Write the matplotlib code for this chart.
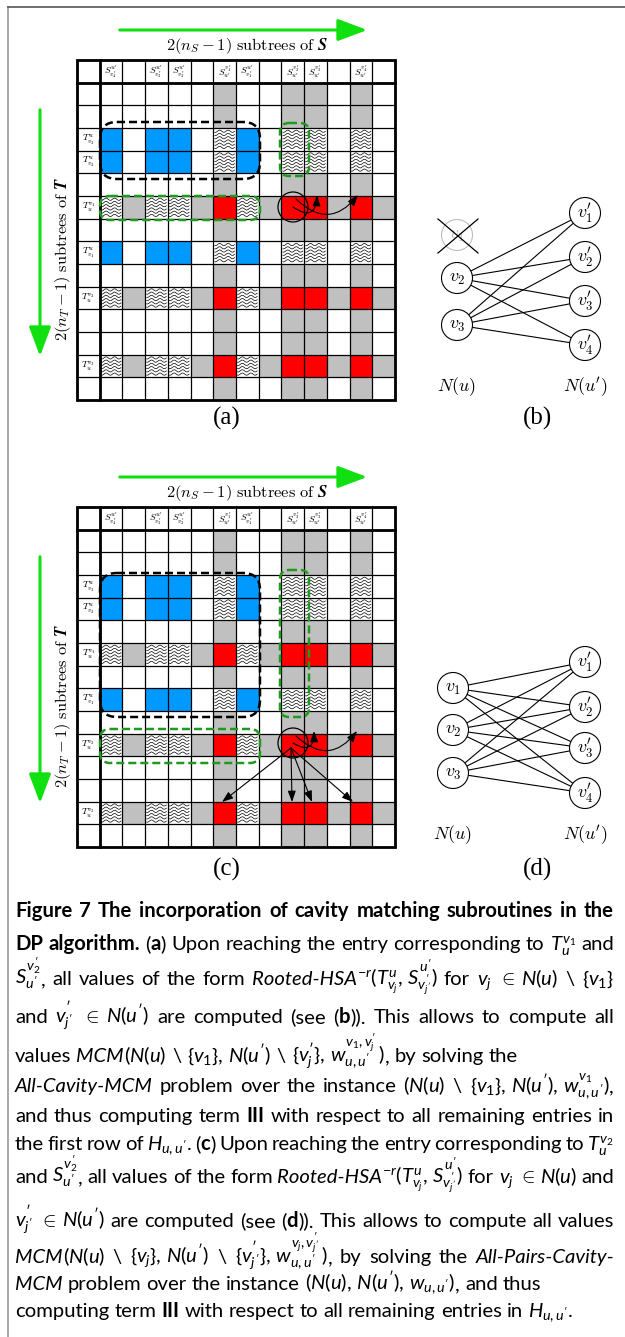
import numpy as np
import matplotlib
matplotlib.use("Agg")
import matplotlib.pyplot as plt
from matplotlib.patches import Rectangle, Circle, FancyBboxPatch, FancyArrowPatch

plt.rcParams['mathtext.fontset'] = 'custom'
plt.rcParams['mathtext.rm'] = 'Lato'
plt.rcParams['mathtext.it'] = 'Lato:italic'
plt.rcParams['mathtext.bf'] = 'Lato:bold'

# ---- table content (same for panels a and c) ----
col_labels = [r"S^{u^\prime}_{v^\prime_4}", "", r"S^{u^\prime}_{v^\prime_3}", r"S^{u^\prime}_{v^\prime_2}", "",
              r"S^{v^\prime_1}_{u^\prime}", r"S^{u^\prime}_{v^\prime_1}", "", r"S^{v^\prime_2}_{u^\prime}",
              r"S^{v^\prime_3}_{u^\prime}", "", r"S^{v^\prime_4}_{u^\prime}", ""]
row_labels = ["", "", r"T^u_{v_3}", r"T^u_{v_2}", "", r"T^{v_1}_u", "", r"T^u_{v_1}", "",
              r"T^{v_2}_u", "", "", r"T^{v_3}_u", ""]
gray_cols = [6, 9, 10, 12]
gray_rows = [6, 10, 13]
blue_rows = [3, 4, 8]
blue_cols = [1, 3, 4, 7]

# ---- bipartite graphs ----
left_nodes = [r"v_1", r"v_2", r"v_3"]
right_nodes = [r"v^\prime_1", r"v^\prime_2", r"v^\prime_3", r"v^\prime_4"]
edges_b = [(1, 0), (1, 1), (1, 2), (1, 3), (2, 0), (2, 1), (2, 2), (2, 3)]
edges_d = [(i, j) for i in range(3) for j in range(4)]

caption_lines = [
    r"**Figure 7 The incorporation of cavity matching subroutines in the**",
    r"**DP algorithm.** (**a**) Upon reaching the entry corresponding to $T_u^{v_1}$ and",
    r"$S_{u^\prime}^{v^\prime_2}$, all values of the form *Rooted-HSA*$^{-r}(T^u_{v_j},\,S^{u^\prime}_{v^\prime_{j^\prime}})$ for $v_j$ $\in$ $N(u)$ $\backslash$ $\{v_1\}$",
    r"and $v^\prime_{j^\prime}$ $\in$ $N(u^\prime)$ are computed (see (**b**)). This allows to compute all",
    r"values *MCM*$(N(u)$ $\backslash$ $\{v_1\},\,N(u^\prime)$ $\backslash$ $\{v^\prime_j\},\,w^{v_1,v^\prime_j}_{u,u^\prime}\,)$, by solving the",
    r"*All-Cavity-MCM* problem over the instance $(N(u)$ $\backslash$ $\{v_1\},\,N(u^\prime),\,w^{v_1}_{u,u^\prime})$,",
    r"and thus computing term **III** with respect to all remaining entries in",
    r"the first row of $H_{u,u^\prime}$. (**c**) Upon reaching the entry corresponding to $T_u^{v_2}$",
    r"and $S_{u^\prime}^{v^\prime_2}$, all values of the form *Rooted-HSA*$^{-r}(T^u_{v_j},\,S^{u^\prime}_{v^\prime_{j^\prime}})$ for $v_j$ $\in$ $N(u)$ and",
    r"$v^\prime_{j^\prime}$ $\in$ $N(u^\prime)$ are computed (see (**d**)). This allows to compute all values",
    r"*MCM*$(N(u)$ $\backslash$ $\{v_j\},\,N(u^\prime)$ $\backslash$ $\{v^\prime_{j^\prime}\},\,w^{v_j,v^\prime_{j^\prime}}_{u,u^\prime}\,)$, by solving the *All-Pairs-Cavity-*",
    r"*MCM* problem over the instance $(N(u),\,N(u^\prime),\,w_{u,u^\prime})$, and thus",
    r"computing term **III** with respect to all remaining entries in $H_{u,u^\prime}$.",
]
caption_base = [917, 950, 985, 1023, 1062, 1092, 1122, 1150, 1183, 1227, 1263, 1290, 1317]
caption_justify = [True, True, True, True, False, True, True, True, True, True, True, False, False]

GREEN = '#10e010'
DGREEN = '#1f9a1f'
BLUE = '#0099ff'
GRAY = '#c0c0c0'

fig = plt.figure(figsize=(6.25, 13.37), dpi=100)
ax = fig.add_axes([0, 0, 1, 1])
ax.set_xlim(0, 625)
ax.set_ylim(1337, 0)
ax.axis('off')

# page frame
ax.plot([8, 8], [7, 1337], color='#999999', lw=1.2)
ax.plot([8, 625], [7, 7], color='#555555', lw=1.2)

X0 = 77
CW = (395 - 77) / 14
CH = 340 / 15
n_cols = len(col_labels)
n_rows = len(row_labels)


def cell_kind(r, c):
    gr, gc = r in gray_rows, c in gray_cols
    br, bc = r in blue_rows, c in blue_cols
    if gr and gc:
        return 'red'
    if (gr and bc) or (br and gc):
        return 'wave'
    if br and bc:
        return 'blue'
    if gr or gc:
        return 'gray'
    return 'white'


fills = {'red': '#ff0000', 'wave': 'white', 'blue': BLUE, 'gray': GRAY, 'white': 'white'}


def draw_grid(y0):
    for r in range(1, n_rows + 1):
        for c in range(1, n_cols + 1):
            kind = cell_kind(r, c)
            x, y = X0 + c * CW, y0 + r * CH
            ax.add_patch(Rectangle((x, y), CW, CH, fc=fills[kind], ec='none', zorder=1))
            if kind == 'wave':
                xx = np.linspace(x + 1.5, x + CW - 1.5, 40)
                for k in range(1, 7):
                    ax.plot(xx, y + k * CH / 7 + 1.1 * np.sin(2 * np.pi * (xx - x) / 8.5),
                            color='k', lw=0.5, zorder=2)
    W, H = (n_cols + 1) * CW, (n_rows + 1) * CH
    for k in range(n_cols + 2):
        ax.plot([X0 + k * CW] * 2, [y0, y0 + H], color='k', lw=0.9, zorder=3)
    for k in range(n_rows + 2):
        ax.plot([X0, X0 + W], [y0 + k * CH] * 2, color='k', lw=0.9, zorder=3)
    ax.add_patch(Rectangle((X0, y0), W, H, fill=False, ec='k', lw=2.0, zorder=4))
    ax.plot([X0, X0 + W], [y0 + CH] * 2, color='k', lw=2.0, zorder=4)
    ax.plot([X0 + CW] * 2, [y0, y0 + H], color='k', lw=2.0, zorder=4)
    for c, lab in enumerate(col_labels, start=1):
        if lab:
            ax.text(X0 + (c + 0.5) * CW, y0 + 0.5 * CH, r'$\boldsymbol{' + lab + '}$', fontsize=6.8,
                    ha='center', va='center', math_fontfamily='cm', zorder=5)
    for r, lab in enumerate(row_labels, start=1):
        if lab:
            ax.text(X0 + 0.5 * CW, y0 + (r + 0.5) * CH, r'$\boldsymbol{' + lab + '}$', fontsize=6.8,
                    ha='center', va='center', math_fontfamily='cm', zorder=5)
    # axis arrows and titles
    ax.add_patch(FancyArrowPatch((117, y0 - 30), (370, y0 - 30), arrowstyle='-|>,head_length=1.2,head_width=0.45',
                                 mutation_scale=15, lw=2.2, color=GREEN, zorder=5))
    ax.text(247, y0 - 14,
            r"$\mathbf{2}(\boldsymbol{n_S} - \mathbf{1})\ \mathrm{subtrees\ of}\ \boldsymbol{S}$",
            fontsize=11.8, ha='center', va='center', math_fontfamily='cm')
    ax.add_patch(FancyArrowPatch((40, y0 + 47), (40, y0 + 299), arrowstyle='-|>,head_length=1.2,head_width=0.45',
                                 mutation_scale=15, lw=2.2, color=GREEN, zorder=5))
    ax.text(63, y0 + 199,
            r"$\mathbf{2}(\boldsymbol{n_T} - \mathbf{1})\ \mathrm{subtrees\ of}\ \boldsymbol{T}$",
            fontsize=11.8, ha='center', va='center', rotation=90, math_fontfamily='cm')


def dashed_box(x0, y0, x1, y1, color, rs):
    ax.add_patch(FancyBboxPatch((x0, y0), x1 - x0, y1 - y0, boxstyle=f"round,pad=0,rounding_size={rs}",
                                fill=False, ec=color, lw=1.8, ls=(0, (3.2, 1.6)), zorder=6))


def arrow(p, q, rad=0.0):
    ax.add_patch(FancyArrowPatch(p, q, arrowstyle='-|>,head_length=0.55,head_width=0.2', mutation_scale=12,
                                 connectionstyle=f'arc3,rad={rad}', lw=0.8, color='k', zorder=7,
                                 shrinkA=0, shrinkB=0))


# ---- panel (a) ----
draw_grid(60)
dashed_box(100, 122, 260, 179, 'k', 17)
dashed_box(280, 123, 309, 176, DGREEN, 9)
dashed_box(100, 196, 260, 220, DGREEN, 10)
ax.add_patch(Circle((293, 207), 15, fill=False, ec='k', lw=0.9, zorder=7))
arrow((293, 207), (317, 195), rad=0.9)
arrow((296, 199), (358, 195), rad=0.55)
ax.text(227, 418, '(a)', fontsize=18, family='Liberation Serif', ha='center', va='center')

# ---- panel (c) ----
draw_grid(507)
dashed_box(100, 573, 260, 717, 'k', 17)
dashed_box(280, 570, 309, 717, DGREEN, 9)
dashed_box(100, 729, 260, 763, DGREEN, 10)
ax.add_patch(Circle((293, 743), 15, fill=False, ec='k', lw=0.9, zorder=7))
arrow((293, 743), (314, 731), rad=0.9)
arrow((296, 736), (357, 731), rad=0.55)
for tx in [222, 292, 312, 353]:
    arrow((291, 748), (tx, 802))
ax.text(227, 869, '(c)', fontsize=18, family='Liberation Serif', ha='center', va='center')


# ---- bipartite graphs ----
def draw_bip(xl, ys_l, xr, ys_r, edges, crossed, ylab, label, ypan):
    for i, j in edges:
        ax.plot([xl, xr], [ys_l[i], ys_r[j]], color='k', lw=0.8, zorder=2)
    for i, (name, y) in enumerate(zip(left_nodes, ys_l)):
        faded = i in crossed
        col = '#bdbdbd' if faded else 'k'
        ax.add_patch(Circle((xl, y), 15.5, fc='white', ec=col, lw=0.8, zorder=3))
        ax.text(xl, y, '$' + name + '$', fontsize=13, color=col, ha='center', va='center',
                math_fontfamily='cm', zorder=4)
        if faded:
            ax.plot([xl - 19, xl + 21], [y - 16, y + 18], color='k', lw=0.9, zorder=5)
            ax.plot([xl + 21, xl - 19], [y - 16, y + 18], color='k', lw=0.9, zorder=5)
    for name, y in zip(right_nodes, ys_r):
        ax.add_patch(Circle((xr, y), 15.5, fc='white', ec='k', lw=0.8, zorder=3))
        ax.text(xr, y, '$' + name + '$', fontsize=13, ha='center', va='center',
                math_fontfamily='cm', zorder=4)
    ax.text(xl, ylab, r'$N(u)$', fontsize=13, ha='center', va='center', math_fontfamily='cm')
    ax.text(xr, ylab, r"$N(u^\prime)$", fontsize=13, ha='center', va='center', math_fontfamily='cm')
    ax.text(537, ypan, label, fontsize=18, family='Liberation Serif', ha='center', va='center')


draw_bip(457, [235, 278, 325], 585, [213, 257, 301, 345], edges_b, [0], 387, '(b)', 418)
draw_bip(453, [688, 730, 773], 585, [662, 707, 748, 793], edges_d, [], 835, '(d)', 869)


# ---- caption ----
def parse(line):
    words, cur, buf = [], [], ''
    bold = ital = False
    i = 0
    while i < len(line):
        ch = line[i]
        if ch in '*$ ':
            if buf:
                cur.append((buf, bold, ital))
                buf = ''
        if line.startswith('**', i):
            bold = not bold
            i += 2
        elif ch == '*':
            ital = not ital
            i += 1
        elif ch == '$':
            j = line.index('$', i + 1)
            cur.append((line[i:j + 1], False, False))
            i = j + 1
        elif ch == ' ':
            words.append(cur)
            cur = []
            i += 1
        else:
            buf += ch
            i += 1
    if buf:
        cur.append((buf, bold, ital))
    words.append(cur)
    return words


renderer = fig.canvas.get_renderer()
CAP_FONT = 'Lato'


def put(x, y, s, b, it, fs, draw=True):
    t = ax.text(x, y, s, fontsize=fs, family=CAP_FONT, weight='bold' if b else 'normal',
                style='italic' if it else 'normal', ha='left', va='baseline')
    w = t.get_window_extent(renderer).width
    if not draw:
        t.remove()
    return w


def word_width(word, fs):
    return sum(put(0, 0, s, b, it, fs, draw=False) for s, b, it in word)


LEFT, RIGHT = 15, 614
parsed = [parse(l) for l in caption_lines]
probe = 10
sp_probe = 0.25 * probe * 1.39
ink = [sum(word_width(w, probe) for w in ws) for ws in parsed]
# size set by the bold first line, limited so that no justified line gets too tight
fs = probe * (RIGHT - LEFT) / (ink[0] + sp_probe * (len(parsed[0]) - 1))
for ws, wd, just in zip(parsed, ink, caption_justify):
    if just:
        fs = min(fs, probe * (RIGHT - LEFT) / (wd + 0.6 * sp_probe * (len(ws) - 1)))
space = 0.25 * fs * 1.39
for ws, yb, just in zip(parsed, caption_base, caption_justify):
    widths = [word_width(w, fs) for w in ws]
    gap = (RIGHT - LEFT - sum(widths)) / (len(ws) - 1) if just else space
    x = LEFT
    for w, wd in zip(ws, widths):
        xx = x
        for s, b, it in w:
            xx += put(xx, yb, s, b, it, fs)
        x += wd + gap

fig.savefig('out.png', dpi=100)
